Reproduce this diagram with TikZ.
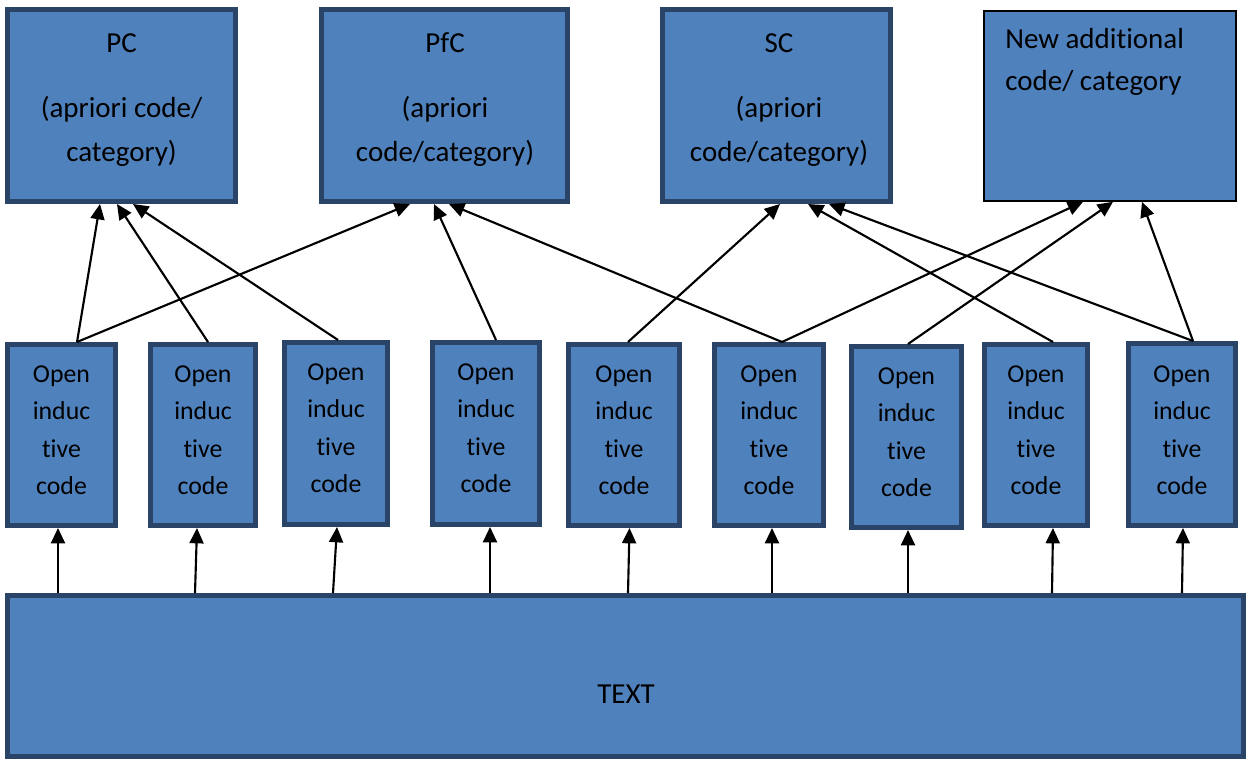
\documentclass[tikz,border=0pt]{standalone}
\usepackage{fontspec}
\setmainfont{Carlito}[Ligatures=NoCommon]
\usetikzlibrary{arrows.meta,calc}
\definecolor{boxfill}{HTML}{4F81BD}
\definecolor{boxline}{HTML}{2A4468}
\begin{document}
\begin{tikzpicture}[x=0.75pt,y=-0.75pt,
  box/.style={draw=boxline, line width=3.75pt, fill=boxfill, inner sep=0pt},
  newbox/.style={draw=black, line width=1.2pt, fill=boxfill, inner sep=0pt},
  toptxt/.style={font=\fontsize{21.75}{33}\selectfont, inner sep=0pt, anchor=base},
  midtxt/.style={font=\fontsize{19.35}{28.125}\selectfont, inner sep=0pt, anchor=north, align=center},
  arr/.style={line width=1.6pt, -{Triangle[length=11.5pt,width=10.5pt]}}]
\useasboundingbox (0,0) rectangle (1246,761);

% top boxes
\node[box, minimum width=228*0.75pt, minimum height=192*0.75pt] (pc) at (121.5,105.5) {};
\node[box, minimum width=246*0.75pt, minimum height=192*0.75pt] (pfc) at (444.5,105.5) {};
\node[box, minimum width=228*0.75pt, minimum height=192*0.75pt] (sc) at (776.5,105.5) {};
\node[newbox, minimum width=252*0.75pt, minimum height=190*0.75pt] (new) at (1110,106) {};

\node[toptxt] (pc1) at (121.5,52) {PC};
\node[toptxt] (pc2) at (121.5,117.5) {(apriori code/};
\node[toptxt] (pc3) at (121.5,161) {category)};
\node[toptxt] (pfc1) at (445,52) {PfC};
\node[toptxt] (pfc2) at (445,117.5) {(apriori};
\node[toptxt] (pfc3) at (445,161) {code/category)};
\node[toptxt] (sc1) at (779,52) {SC};
\node[toptxt] (sc2) at (779,117.5) {(apriori};
\node[toptxt] (sc3) at (779,161) {code/category)};
\node[toptxt, anchor=base west] (new1) at (1005,48) {New additional};
\node[toptxt, anchor=base west] (new2) at (1005,90) {code/ category};

% middle boxes
\node[box, minimum width=108*0.75pt, minimum height=181*0.75pt] (b1) at (61.5,435) {};
\node[box, minimum width=105*0.75pt, minimum height=181*0.75pt] (b2) at (203,435) {};
\node[box, minimum width=103*0.75pt, minimum height=182*0.75pt] (b3) at (336,433.5) {};
\node[box, minimum width=107*0.75pt, minimum height=182*0.75pt] (b4) at (486,433.5) {};
\node[box, minimum width=111*0.75pt, minimum height=181*0.75pt] (b5) at (624,435) {};
\node[box, minimum width=109*0.75pt, minimum height=181*0.75pt] (b6) at (769,435) {};
\node[box, minimum width=110*0.75pt, minimum height=181*0.75pt] (b7) at (906.5,437) {};
\node[box, minimum width=103*0.75pt, minimum height=181*0.75pt] (b8) at (1036,435) {};
\node[box, minimum width=107*0.75pt, minimum height=182*0.75pt] (b9) at (1182,434.5) {};

\node[midtxt] (t1) at (61.5,365) {Open\\induc\\tive\\code};
\node[midtxt] (t2) at (203,365) {Open\\induc\\tive\\code};
\node[midtxt] (t3) at (336,363) {Open\\induc\\tive\\code};
\node[midtxt] (t4) at (486,363) {Open\\induc\\tive\\code};
\node[midtxt] (t5) at (624,365) {Open\\induc\\tive\\code};
\node[midtxt] (t6) at (769,365) {Open\\induc\\tive\\code};
\node[midtxt] (t7) at (906.5,367) {Open\\induc\\tive\\code};
\node[midtxt] (t8) at (1036,365) {Open\\induc\\tive\\code};
\node[midtxt] (t9) at (1182,365) {Open\\induc\\tive\\code};

% bottom box
\node[box, minimum width=1236*0.75pt, minimum height=161*0.75pt] (txt) at (625.5,676) {};
\node[toptxt] (txtlabel) at (626,703) {TEXT};

% arrows from TEXT
\draw[arr] ($(b1.south |- txt.north)+(-3.5,0)$) -- ($(b1.south)+(-3.5,0)$);
\draw[arr] ($(b2.south |- txt.north)+(-8,0)$) -- ($(b2.south)+(-6,0)$);
\draw[arr] ($(b3.south |- txt.north)+(-3,0)$) -- ($(b3.south)+(1,0)$);
\draw[arr] ($(b4.south |- txt.north)+(4,0)$) -- ($(b4.south)+(4,0)$);
\draw[arr] ($(b5.south |- txt.north)+(4,0)$) -- ($(b5.south)+(5.5,0)$);
\draw[arr] ($(b6.south |- txt.north)+(3,0)$) -- ($(b6.south)+(3,0)$);
\draw[arr] ($(b7.south |- txt.north)+(1.5,0)$) -- ($(b7.south)+(1.5,0)$);
\draw[arr] ($(b8.south |- txt.north)+(16,0)$) -- ($(b8.south)+(17,0)$);
\draw[arr] ($(b9.south |- txt.north)+(0,0)$) -- ($(b9.south)+(1,0)$);

% arrows to categories
\draw[arr] ($(b1.north)+(15.5,0)$) -- ($(pc.south)+(-21.5,0)$);
\draw[arr] ($(b1.north)+(15.5,0)$) -- ($(pfc.south)+(-34.5,0)$);
\draw[arr] ($(b2.north)+(5,0)$) -- ($(pc.south)+(-4.5,0)$);
\draw[arr] ($(b3.north)+(2,0)$) -- ($(pc.south)+(11.5,0)$);
\draw[arr] ($(b4.north)+(10,0)$) -- ($(pfc.south)+(-10.5,0)$);
\draw[arr] ($(b5.north)+(4,0)$) -- ($(sc.south)+(3.5,0)$);
\draw[arr] ($(b6.north)+(13,0)$) -- ($(pfc.south)+(4.5,0)$);
\draw[arr] ($(b6.north)+(13,0)$) -- ($(new.south)+(-27,0)$);
\draw[arr] ($(b7.north)+(1.5,0)$) -- ($(new.south)+(3,0)$);
\draw[arr] ($(b8.north)+(17,0)$) -- ($(sc.south)+(31.5,0)$);
\draw[arr] ($(b9.north)+(11,0)$) -- ($(sc.south)+(52.5,0)$);
\draw[arr] ($(b9.north)+(11,0)$) -- ($(new.south)+(32,0)$);
\end{tikzpicture}
\end{document}
